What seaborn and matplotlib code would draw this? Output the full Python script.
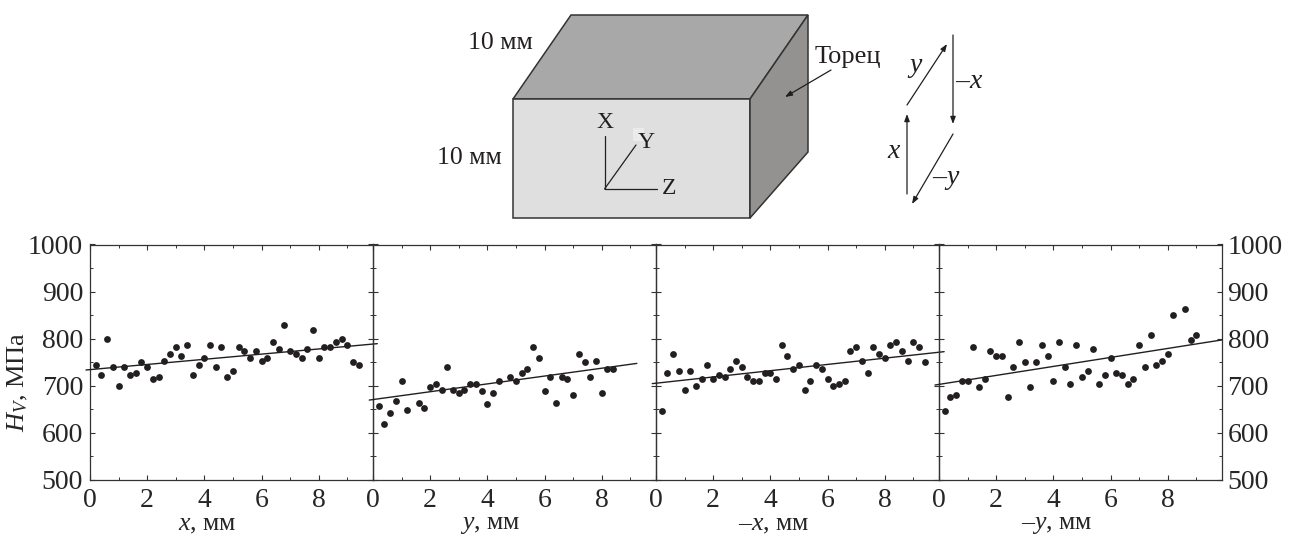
#!/usr/bin/env python3
"""Microhardness along the four faces of a sample, with the sample sketch above."""

import matplotlib
matplotlib.use("Agg")
import matplotlib.pyplot as plt
from matplotlib.patches import Polygon
from matplotlib.ticker import MultipleLocator
import pandas as pd
import seaborn as sns

# Hardness readings, MPa, one per position
pos_x = [0.2, 0.4, 0.6, 0.8, 1.0, 1.2, 1.4, 1.6, 1.8, 2.0, 2.2, 2.4, 2.6, 2.8, 3.0, 3.2,
         3.4, 3.6, 3.8, 4.0, 4.2, 4.4, 4.6, 4.8, 5.0, 5.2, 5.4, 5.6, 5.8, 6.0, 6.2, 6.4,
         6.6, 6.8, 7.0, 7.2, 7.4, 7.6, 7.8, 8.0, 8.2, 8.4, 8.6, 8.8, 9.0, 9.2, 9.4]
hv_x = [744, 722, 798, 740, 700, 740, 722, 726, 749, 740, 713, 718, 753, 768, 782, 763,
        787, 722, 744, 758, 787, 740, 782, 718, 730, 782, 773, 758, 773, 753, 758, 792,
        778, 829, 773, 768, 758, 778, 819, 758, 782, 782, 792, 798, 787, 749, 744]

pos_y = [0.2, 0.4, 0.6, 0.8, 1.0, 1.2, 1.6, 1.8, 2.0, 2.2, 2.4, 2.6, 2.8, 3.0, 3.2, 3.4,
         3.6, 3.8, 4.0, 4.2, 4.4, 4.8, 5.0, 5.2, 5.4, 5.6, 5.8, 6.0, 6.2, 6.4, 6.6, 6.8,
         7.0, 7.2, 7.4, 7.6, 7.8, 8.0, 8.2, 8.4]
hv_y = [656, 619, 641, 667, 709, 648, 663, 652, 696, 704, 691, 740, 691, 684, 691, 704,
        704, 688, 660, 684, 709, 718, 709, 726, 735, 782, 758, 688, 718, 663, 718, 713,
        679, 768, 749, 718, 753, 684, 735, 735]

pos_mx = [0.2, 0.4, 0.6, 0.8, 1.0, 1.2, 1.4, 1.6, 1.8, 2.0, 2.2, 2.4, 2.6, 2.8, 3.0, 3.2,
          3.4, 3.6, 3.8, 4.0, 4.2, 4.4, 4.6, 4.8, 5.0, 5.2, 5.4, 5.6, 5.8, 6.0, 6.2, 6.4,
          6.6, 6.8, 7.0, 7.2, 7.4, 7.6, 7.8, 8.0, 8.2, 8.4, 8.6, 8.8, 9.0, 9.2, 9.4]
hv_mx = [645, 726, 768, 730, 691, 730, 700, 713, 744, 713, 722, 718, 735, 753, 740, 718,
         709, 709, 726, 726, 713, 787, 763, 735, 744, 691, 709, 744, 735, 713, 700, 704,
         709, 773, 782, 753, 726, 782, 768, 758, 787, 792, 773, 753, 792, 782, 749]

pos_my = [0.2, 0.4, 0.6, 0.8, 1.0, 1.2, 1.4, 1.6, 1.8, 2.0, 2.2, 2.4, 2.6, 2.8, 3.0, 3.2,
          3.4, 3.6, 3.8, 4.0, 4.2, 4.4, 4.6, 4.8, 5.0, 5.2, 5.4, 5.6, 5.8, 6.0, 6.2, 6.4,
          6.6, 6.8, 7.0, 7.2, 7.4, 7.6, 7.8, 8.0, 8.2, 8.6, 8.8, 9.0]
hv_my = [645, 675, 679, 709, 709, 782, 696, 713, 773, 763, 763, 675, 740, 792, 749, 696,
         749, 787, 763, 709, 792, 740, 704, 787, 718, 730, 778, 704, 722, 758, 726, 722,
         704, 713, 787, 740, 808, 744, 753, 768, 851, 863, 797, 808]

# Trend line ends for each panel
fit_x = [-0.14, 10.05]
fit_hv_x = [733, 789]
fit_y = [-0.13, 9.23]
fit_hv_y = [669, 747]
fit_mx = [-0.13, 10.08]
fit_hv_mx = [704, 772]
fit_my = [-0.14, 9.9]
fit_hv_my = [701, 797]

panel_labels = ["$x$, мм", "$y$, мм", "–$x$, мм", "–$y$, мм"]

INK = "#231f20"

sns.set_theme(style="ticks")
plt.rcParams["font.family"] = ["Liberation Serif", "DejaVu Serif"]
plt.rcParams["mathtext.fontset"] = "custom"
plt.rcParams["mathtext.rm"] = "Liberation Serif"
plt.rcParams["mathtext.it"] = "Liberation Serif:italic"
plt.rcParams["text.color"] = INK


def draw_sketch(fig):
    """Sample block and path arrows, drawn in pixel coordinates."""
    ax = fig.add_axes([0, 0, 1, 1], zorder=-1)
    ax.set_xlim(0, 1289)
    ax.set_ylim(539, 0)
    ax.axis("off")

    faces = [
        ([(513, 99), (571, 15), (808, 15), (750, 99)], "#a8a8a8"),
        ([(513, 99), (750, 99), (750, 218), (513, 218)], "#dfdfdf"),
        ([(750, 99), (808, 15), (808, 152), (750, 218)], "#939290"),
    ]
    for corners, color in faces:
        ax.add_patch(Polygon(corners, closed=True, facecolor=color, edgecolor="#333333", linewidth=1.1))

    # pale spot left behind the Y label
    ax.add_patch(Polygon([(633, 128), (644, 128), (644, 141), (633, 141)], closed=True,
                         facecolor="#ebebeb", edgecolor="none"))

    # sample axes
    ax.plot([604.5, 604.5], [136, 189], color=INK, lw=0.9)
    ax.plot([604.5, 636], [189, 145], color=INK, lw=0.9)
    ax.plot([604.5, 657], [189, 189], color=INK, lw=0.9)

    arrows = [
        ((831, 70), (785, 97)),
        ((907, 194), (907, 114)),
        ((907, 105), (947, 44)),
        ((953, 35), (953, 124)),
        ((953, 134), (912, 204)),
    ]
    for start, end in arrows:
        ax.annotate("", xy=end, xytext=start,
                    arrowprops=dict(arrowstyle="-|>,head_length=0.35,head_width=0.13",
                                    color=INK, lw=0.9, shrinkA=0, shrinkB=0))

    labels = [
        (500, 43, "10 мм", 18.5), (469.5, 158, "10 мм", 18.5), (848, 57, "Торец", 19),
        (605, 122, "X", 17), (646, 143, "Y", 17), (669, 189, "Z", 17),
        (915, 67, "$y$", 20), (969, 82, "–$x$", 20), (894, 152, "$x$", 20), (946, 179, "–$y$", 20),
    ]
    for px, py, text, size in labels:
        ax.text(px, py, text, fontsize=size, ha="center", va="center")


def draw_panel(ax, pos, hv, fit_pos, fit_hv, label):
    points = pd.DataFrame({"pos": pos, "hv": hv})
    trend = pd.DataFrame({"pos": fit_pos, "hv": fit_hv})
    sns.lineplot(data=trend, x="pos", y="hv", ax=ax, color=INK, linewidth=1.0,
                 errorbar=None, clip_on=False, zorder=3)
    sns.scatterplot(data=points, x="pos", y="hv", ax=ax, color=INK, s=24, linewidth=0,
                    clip_on=False, zorder=4)

    ax.set_xlim(0, 9.9)
    ax.set_ylim(500, 1000)
    ax.xaxis.set_major_locator(MultipleLocator(2))
    ax.xaxis.set_minor_locator(MultipleLocator(1))
    ax.yaxis.set_major_locator(MultipleLocator(100))
    ax.yaxis.set_minor_locator(MultipleLocator(50))
    ax.tick_params(which="major", direction="in", length=3.5, width=0.8, color="#333333",
                   top=True, right=True, left=True, bottom=True,
                   labelleft=False, labelright=False, labelsize=20, pad=6)
    ax.tick_params(which="minor", direction="in", length=2, width=0.7, color="#333333",
                   top=True, right=True, left=True, bottom=True)
    for spine in ax.spines.values():
        spine.set_visible(True)
        spine.set_linewidth(0.9)
        spine.set_color("#333333")
    ax.set_ylabel("")
    ax.set_xlabel(label, fontsize=18.5, va="center")
    # labels sit left of the panel centre
    ax.xaxis.set_label_coords(0.415, -0.194)
    ax.patch.set_alpha(0)


def main():
    fig = plt.figure(figsize=(12.89, 5.39), dpi=100)
    draw_sketch(fig)

    series = [
        (pos_x, hv_x, fit_x, fit_hv_x),
        (pos_y, hv_y, fit_y, fit_hv_y),
        (pos_mx, hv_mx, fit_mx, fit_hv_mx),
        (pos_my, hv_my, fit_my, fit_hv_my),
    ]
    left_edges = [90, 373, 656, 939]
    axes = []
    for left, (pos, hv, fit_pos, fit_hv), label in zip(left_edges, series, panel_labels):
        ax = fig.add_axes([left / 1289, 1 - 479.5 / 539, 283 / 1289, 235 / 539])
        draw_panel(ax, pos, hv, fit_pos, fit_hv, label)
        axes.append(ax)

    axes[0].tick_params(axis="y", which="major", labelleft=True, pad=5)
    axes[0].set_ylabel("$H_V$, МПа", fontsize=19, va="center")
    axes[0].yaxis.set_label_coords(-0.254, 0.415)
    axes[-1].tick_params(axis="y", which="major", labelright=True, pad=4)

    fig.savefig("out.png", dpi=100)
    plt.close(fig)


if __name__ == "__main__":
    main()
